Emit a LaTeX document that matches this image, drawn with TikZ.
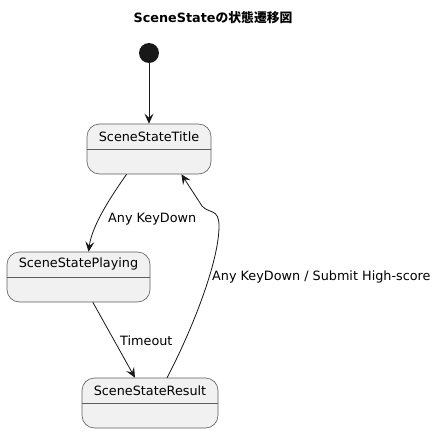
\documentclass[tikz,border=0pt]{standalone}
\usepackage{fontspec}
\setmainfont{DejaVu Sans}
\newfontfamily\cjk{Noto Sans CJK JP}
\usetikzlibrary{calc,arrows.meta}

\definecolor{statefill}{HTML}{F1F1F1}
\definecolor{stateline}{HTML}{5E5E5E}
\definecolor{arrowline}{HTML}{181818}

\tikzset{
  state/.style={draw=stateline, fill=statefill, line width=0.6pt, rounded corners=12.5pt, minimum height=50pt, inner sep=0pt},
  statename/.style={anchor=north, minimum height=25pt, inner sep=0pt, font=\fontsize{12.8}{14}\selectfont},
  transition/.style={draw=arrowline, line width=0.8pt, -{Stealth[length=10pt,width=9pt,inset=4pt]}},
  translabel/.style={anchor=west, inner sep=0pt, font=\fontsize{12.8}{14}\selectfont},
}

\begin{document}
\begin{tikzpicture}[x=1pt, y=-1pt]
\fill[white] (0,0) rectangle (439,433);
\useasboundingbox (0,0) rectangle (439,433);

\node[font=\fontsize{12.8}{14}\selectfont\bfseries] (heading) at (213,18) {SceneState{\cjk の状態遷移図}};

% states
\node[circle, fill=arrowline, minimum size=20pt, inner sep=0pt] (start) at (149,53) {};
\node[state, minimum width=124pt] (title) at (149,149) {};
\node[state, minimum width=143pt] (playing) at (78.5,277) {};
\node[state, minimum width=136pt] (result) at (150,403) {};

\foreach \s/\t in {title/SceneStateTitle, playing/SceneStatePlaying, result/SceneStateResult} {
  \draw[stateline, line width=0.6pt] (\s.west) -- (\s.east);
  \node[statename] at (\s.north) {\t};
}

% transitions
\draw[transition] (start) -- (title);
\draw[transition] ($(title.south west)!0.32!(title.south east)$)
  .. controls (112,195) and (92,225) .. ($(playing.north west)!0.57!(playing.north east)$);
\draw[transition] ($(playing.south west)!0.6!(playing.south east)$) -- ($(result.north west)!0.39!(result.north east)$);
\draw[transition] ($(result.north west)!0.625!(result.north east)$)
  .. controls (192,330) and (219,262) .. (219,226)
  .. controls (219,208) and (209,214) .. (202,206)
  -- ($(title.south west)!0.76!(title.south east)$);

\node[translabel] (lbl1) at (108,219) {Any KeyDown};
\node[translabel] (lbl2) at (120,341) {Timeout};
\node[translabel] (lbl3) at (212,277) {Any KeyDown / Submit High-score};
\end{tikzpicture}
\end{document}
